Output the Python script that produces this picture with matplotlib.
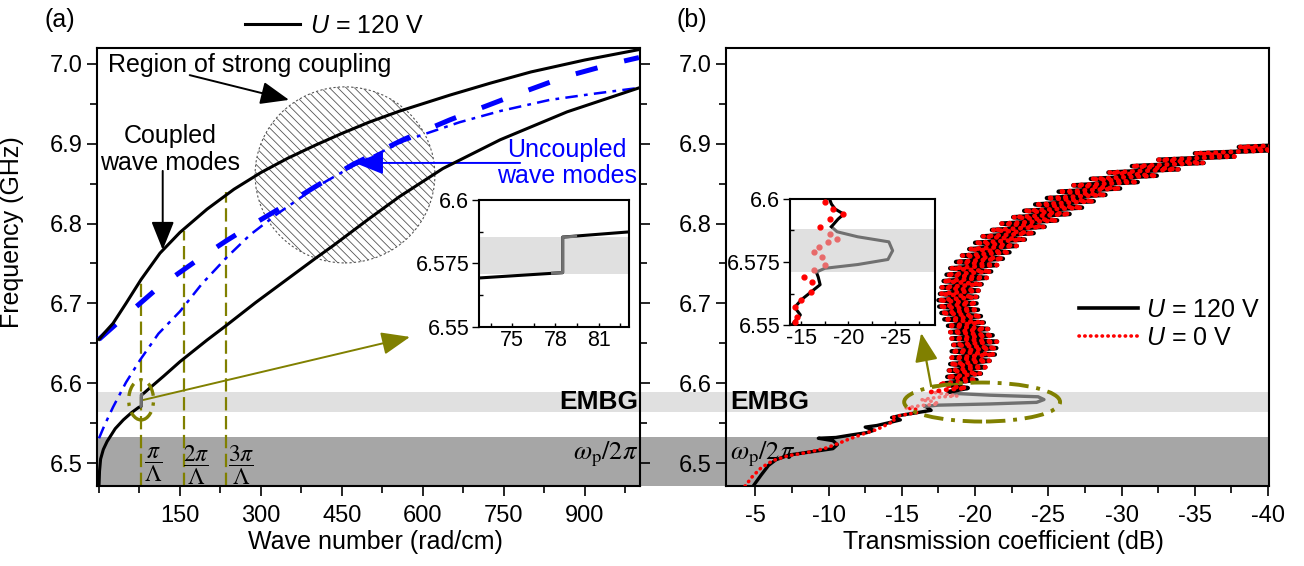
import matplotlib.pyplot as plt
from matplotlib.patches import Ellipse
from matplotlib.ticker import MultipleLocator, FixedLocator

plt.rcParams['font.family'] = ['Liberation Sans', 'DejaVu Sans']
plt.rcParams['mathtext.fontset'] = 'custom'
plt.rcParams['mathtext.rm'] = 'Liberation Sans'
plt.rcParams['mathtext.it'] = 'Liberation Sans:italic'
plt.rcParams['hatch.linewidth'] = 0.6

OLIVE = '#808000'
BLUE = '#0000ff'
GRAY = '#707070'
DARK_BAND = '#a6a6a6'
LIGHT_BAND = '#e0e0e0'

# ---- panel (a): dispersion, wave number (rad/cm) vs frequency (GHz)
k_up = [0, 10, 26, 50, 78, 113, 150, 200, 250, 300, 350, 400, 450, 500, 557, 650, 725, 800,
        900, 1000]
f_up = [6.655, 6.663, 6.675, 6.700, 6.730, 6.763, 6.789, 6.818, 6.843, 6.864, 6.882, 6.898,
        6.913, 6.927, 6.941, 6.961, 6.976, 6.990, 7.005, 7.018]

k_lo = [0, 1, 3, 8, 15, 30, 45, 60, 72.7, 78.5, 78.5, 83, 89, 120, 150, 200, 237, 290, 348,
        400, 433, 500, 557, 637, 743, 867, 1000]
f_lo = [6.471, 6.490, 6.505, 6.517, 6.527, 6.543, 6.554, 6.563, 6.5693, 6.5714, 6.5854, 6.5874,
        6.591, 6.609, 6.627, 6.654, 6.673, 6.701, 6.730, 6.756, 6.772, 6.806, 6.834, 6.869,
        6.905, 6.940, 6.970]
k_jump = [77.8, 78.5, 78.5, 79.4]
f_jump = [6.5712, 6.5714, 6.5854, 6.5857]

k_dash = [0, 40, 76, 110, 150, 190, 237, 280, 330, 400, 470, 563, 650, 770, 863, 955, 1000]
f_dash = [6.655, 6.679, 6.700, 6.720, 6.739, 6.758, 6.779, 6.797, 6.817, 6.846, 6.874, 6.905,
          6.930, 6.961, 6.984, 7.001, 7.008]

k_dd = [0, 10, 26, 50, 76, 110, 150, 190, 237, 280, 330, 400, 470, 563, 668, 743, 835, 920, 1000]
f_dd = [6.531, 6.547, 6.570, 6.601, 6.629, 6.662, 6.690, 6.724, 6.758, 6.786, 6.812, 6.845,
        6.872, 6.903, 6.927, 6.941, 6.955, 6.963, 6.970]

k_bragg = [78.5, 157, 235.5]
bragg_labels = [r'$\dfrac{\pi}{\Lambda}$', r'$\dfrac{2\pi}{\Lambda}$', r'$\dfrac{3\pi}{\Lambda}$']

# ---- panel (b): transmission coefficient (dB) vs frequency (GHz)
blk_db = [-4.85, -5.4, -5.9, -6.4, -7.3, -8.8, -10.3, -10.6, -10.3, -9.3, -10.5, -11.5, -12.6,
          -13.1, -12.5, -13.3, -14.0, -14.9, -14.3, -15.0, -16.0, -17.0, -16.8, -16.6]
blk_f = [6.471, 6.485, 6.497, 6.504, 6.510, 6.514, 6.518, 6.523, 6.528, 6.531, 6.532, 6.535,
         6.538, 6.541, 6.545, 6.547, 6.550, 6.554, 6.557, 6.560, 6.563, 6.566, 6.569, 6.571]
spike_db = [-16.6, -17.5, -21.0, -24.2, -24.7, -24.3, -21.0, -18.8, -18.2]
spike_f = [6.571, 6.5725, 6.574, 6.576, 6.5795, 6.583, 6.585, 6.587, 6.589]
blk_top_db = [-18.2, -18.9, -19.5, -18.6, -18.2]
blk_top_f = [6.589, 6.592, 6.594, 6.596, 6.598]

red_db = [-4.3, -4.8, -5.4, -6.2, -7.2, -8.5, -9.7, -10.6, -11.4, -12.3, -13.3, -14.3, -14.5,
          -14.3, -15.0, -16.0, -16.1, -15.3]
red_f = [6.471, 6.483, 6.494, 6.503, 6.509, 6.513, 6.518, 6.524, 6.530, 6.536, 6.542, 6.551,
         6.553, 6.557, 6.560, 6.563, 6.567, 6.569]
red_gap_db = [-15.3, -16.3, -17.5, -17.2, -16.3, -16.9, -17.8, -18.8, -18.1, -17.0]
red_gap_f = [6.569, 6.572, 6.574, 6.577, 6.579, 6.581, 6.583, 6.584, 6.586, 6.589]
red_top_db = [-17.0, -18.1, -19.4, -18.4, -17.5]
red_top_f = [6.589, 6.592, 6.594, 6.596, 6.599]

# rippled part above the gap (both voltages overlap here)
band_f = [6.600, 6.604, 6.608, 6.612, 6.616, 6.620, 6.624, 6.628, 6.632, 6.636, 6.640, 6.644,
          6.648, 6.652, 6.656, 6.660, 6.664, 6.668, 6.672, 6.676, 6.680, 6.684, 6.688, 6.692,
          6.696, 6.700, 6.704, 6.708, 6.712, 6.716, 6.720, 6.724, 6.728, 6.732, 6.736, 6.740,
          6.744, 6.748, 6.752, 6.756, 6.760, 6.764, 6.768, 6.772, 6.776, 6.780, 6.784, 6.788,
          6.792, 6.796, 6.800, 6.804, 6.808, 6.812, 6.816, 6.820, 6.824, 6.828, 6.832, 6.836,
          6.840, 6.844, 6.848, 6.852, 6.856, 6.860, 6.864, 6.868, 6.872, 6.876, 6.880, 6.884,
          6.888, 6.892, 6.896, 6.900, 6.904]
band_db = [-18.0, -20.1, -18.1, -20.4, -18.2, -20.7, -18.3, -21.0, -18.4, -21.35, -18.4, -21.45,
           -18.5, -21.5, -18.4, -21.2, -18.3, -20.9, -18.15, -20.6, -17.9, -20.4, -17.7, -20.2,
           -17.55, -20.1, -17.5, -20.15, -17.6, -20.25, -17.7, -20.45, -17.85, -20.8, -18.05, -21.1,
           -18.3, -21.5, -18.7, -21.9, -19.1, -22.35, -19.6, -22.85, -20.0, -23.4, -20.5, -24.0,
           -21.15, -24.75, -21.8, -25.6, -22.6, -26.45, -23.35, -27.3, -24.1, -28.1, -24.9, -28.9,
           -25.7, -29.9, -26.7, -31.1, -27.9, -32.4, -29.1, -33.9, -30.7, -35.6, -32.5, -37.7,
           -35.0, -40.5, -38.0, -43.5, -41.0]

wp_lim = 6.532
embg = (6.564, 6.589)
ylim = (6.4712, 7.020)

W, H = 1304, 566
fig = plt.figure(figsize=(W / 100, H / 100), dpi=100)


def rect(x0, y0, x1, y1):
    return [x0 / W, 1 - y1 / H, (x1 - x0) / W, (y1 - y0) / H]


ax_a = fig.add_axes(rect(97, 48, 640, 486))
ax_b = fig.add_axes(rect(726, 48, 1269, 486))
ax_b.patch.set_visible(False)

# shaded bands running across both panels
span = (1269 - 97) / (640 - 97)
ax_a.axhspan(ylim[0], wp_lim, xmin=0, xmax=span, color=DARK_BAND, lw=0, zorder=0, clip_on=False)
ax_a.axhspan(embg[0], embg[1], xmin=0, xmax=span, color=LIGHT_BAND, lw=0, zorder=0, clip_on=False)

# ---- panel (a)
ax_a.add_patch(Ellipse((455.6, 6.861), 333, 0.2206, facecolor='none', edgecolor='#555555',
                       hatch='\\\\\\\\', lw=0.8, ls=(0, (2, 2)), zorder=1))
for kb, f_top in zip(k_bragg, [6.730, 6.791, 6.840]):
    ax_a.plot([kb, kb], [ylim[0], f_top], color=OLIVE, lw=1.6, ls=(0, (6, 2.5)), zorder=2)
line_up, = ax_a.plot(k_up, f_up, color='black', lw=2.2, zorder=4)
ax_a.plot(k_lo, f_lo, color='black', lw=2.2, zorder=4)
ax_a.plot(k_jump, f_jump, color=GRAY, lw=2.2, zorder=5)
ax_a.plot(k_dash, f_dash, color=BLUE, lw=3.6, ls=(0, (4.5, 5.5)), zorder=3)
ax_a.plot(k_dd, f_dd, color=BLUE, lw=1.8, ls=(0, (5, 2.5, 1.5, 2.5)), zorder=3)

for kx, lab in zip([100, 181, 263], bragg_labels):
    ax_a.text(kx, 6.4975, lab, fontsize=17, ha='center', va='center', math_fontfamily='stix')

ax_a.text(998, 6.576, 'EMBG', fontsize=19, fontweight='bold', ha='right', va='center')
ax_a.text(998, 6.511, r'$\omega_{\rm p}/2\pi$', fontsize=19, ha='right', va='center',
          math_fontfamily='stix')
ax_b.text(-3.3, 6.576, 'EMBG', fontsize=19, fontweight='bold', ha='left', va='center')
ax_b.text(-3.3, 6.511, r'$\omega_{\rm p}/2\pi$', fontsize=19, ha='left', va='center',
          math_fontfamily='stix')

head = '-|>,head_length=0.8,head_width=0.32'
ax_a.text(17, 6.999, 'Region of strong coupling', fontsize=18, ha='left', va='center')
ax_a.annotate('', xy=(352, 6.955), xytext=(168, 6.986),
              arrowprops=dict(arrowstyle=head, color='black', lw=1.4, mutation_scale=22,
                              shrinkA=0, shrinkB=0))
ax_a.text(131, 6.893, 'Coupled\nwave modes', fontsize=18, ha='center', va='center',
          linespacing=1.15)
ax_a.annotate('', xy=(118, 6.767), xytext=(118, 6.866),
              arrowprops=dict(arrowstyle=head, color='black', lw=1.4, mutation_scale=22,
                              shrinkA=0, shrinkB=0))
ax_a.text(866, 6.876, 'Uncoupled\nwave modes', fontsize=18, ha='center', va='center',
          color=BLUE, linespacing=1.15)
ax_a.annotate('', xy=(474, 6.876), xytext=(780, 6.876),
              arrowprops=dict(arrowstyle=head, color=BLUE, lw=1.4, mutation_scale=22,
                              shrinkA=0, shrinkB=0))
ax_a.add_patch(Ellipse((78, 6.579), 46, 0.050, facecolor='none', edgecolor=OLIVE, lw=2.4,
                       ls=(0, (4, 2, 1, 2)), zorder=6))
ax_a.annotate('', xy=(576, 6.658), xytext=(82, 6.579),
              arrowprops=dict(arrowstyle=head, color=OLIVE, lw=1.4, mutation_scale=22,
                              shrinkA=0, shrinkB=0))

ax_a.set_xlim(-3.7, 1002)
ax_a.set_ylim(*ylim)
ax_a.xaxis.set_major_locator(FixedLocator([150, 300, 450, 600, 750, 900]))
ax_a.xaxis.set_minor_locator(FixedLocator([0, 75, 225, 375, 525, 675, 825, 975]))
ax_a.yaxis.set_major_locator(MultipleLocator(0.1))
ax_a.yaxis.set_minor_locator(MultipleLocator(0.05))
ax_a.tick_params(which='both', direction='out', labelsize=17, width=1.2, top=False,
                 right=True, labelright=False, pad=3)
ax_a.tick_params(which='major', length=7)
ax_a.tick_params(which='minor', length=5)
ax_a.tick_params(axis='x', pad=7)
ax_a.yaxis.set_major_formatter(plt.FuncFormatter(lambda v, p: f'{v:.1f}'))
ax_a.set_xlabel('Wave number (rad/cm)', fontsize=18)
ax_a.xaxis.set_label_coords(0.512, -0.10)
ax_a.set_ylabel('Frequency (GHz)', fontsize=18)
ax_a.yaxis.set_label_coords(-0.135, 0.58)
for s in ax_a.spines.values():
    s.set_linewidth(1.5)

ax_a.legend([line_up], [r'$U$ = 120 V'], loc='center left', bbox_to_anchor=(245 / W, 1 - 26 / H),
            bbox_transform=fig.transFigure, frameon=False, fontsize=18, handlelength=2.2,
            handletextpad=0.4, borderpad=0, borderaxespad=0)

# ---- panel (b)
ax_b.plot(blk_db, blk_f, color='black', lw=2.4, zorder=3)
ax_b.plot(spike_db, spike_f, color=GRAY, lw=2.4, zorder=3)
ax_b.plot(blk_top_db + band_db, blk_top_f + band_f, color='black', lw=3.2, zorder=3)
line_120, = ax_b.plot([], [], color='black', lw=2.6)
dots = dict(ls=(0, (0.1, 1.5)), dash_capstyle='round', zorder=4)
ax_b.plot(red_db, red_f, color='red', lw=2.6, **dots)
ax_b.plot(red_gap_db, red_gap_f, color='#f07878', lw=2.6, **dots)
ax_b.plot(red_top_db + band_db, red_top_f + band_f, color='red', lw=3.4, **dots)
line_0, = ax_b.plot([], [], color='red', lw=2.6, **dots)

ax_b.add_patch(Ellipse((-20.48, 6.5764), 10.64, 0.0489, facecolor='none', edgecolor=OLIVE,
                       lw=2.8, ls=(0, (5, 2, 1, 2)), zorder=6))
ax_b.plot([-18.78, -17.0], [6.599, 6.5965], color=OLIVE, lw=1.6, zorder=6)
ax_b.annotate('', xy=(-16.32, 6.663), xytext=(-17.0, 6.5965),
              arrowprops=dict(arrowstyle=head, color=OLIVE, lw=1.6, mutation_scale=22,
                              shrinkA=0, shrinkB=0))

ax_b.set_xlim(-3.0, -40.06)
ax_b.set_ylim(*ylim)
ax_b.xaxis.set_major_locator(MultipleLocator(5))
ax_b.xaxis.set_minor_locator(MultipleLocator(2.5))
ax_b.yaxis.set_major_locator(MultipleLocator(0.1))
ax_b.yaxis.set_minor_locator(MultipleLocator(0.05))
ax_b.xaxis.set_major_formatter(plt.FuncFormatter(lambda v, p: f'{v:.0f}'))
ax_b.yaxis.set_major_formatter(plt.FuncFormatter(lambda v, p: f'{v:.1f}'))
ax_b.tick_params(which='both', direction='out', labelsize=17, width=1.2, top=False,
                 right=False, pad=3)
ax_b.tick_params(which='major', length=7)
ax_b.tick_params(which='minor', length=5)
ax_b.tick_params(axis='x', pad=7)
ax_b.set_xlabel('Transmission coefficient (dB)', fontsize=18)
ax_b.xaxis.set_label_coords(0.511, -0.10)
for s in ax_b.spines.values():
    s.set_linewidth(1.5)
ax_b.legend([line_120, line_0], [r'$U$ = 120 V', r'$U$ = 0 V'], loc='center left',
            bbox_to_anchor=(1079 / W, 1 - 324 / H), bbox_transform=fig.transFigure,
            frameon=False, fontsize=18, handlelength=2.35, handletextpad=0.35,
            labelspacing=0.15, borderpad=0, borderaxespad=0)

fig.text(45 / W, 1 - 20 / H, '(a)', fontsize=18, va='center')
fig.text(677 / W, 1 - 20 / H, '(b)', fontsize=18, va='center')

# ---- inset of panel (a)
ax_ai = fig.add_axes(rect(479, 200, 629, 327))
ax_ai.axhspan(6.5709, 6.5854, color=LIGHT_BAND, lw=0, zorder=0)
ax_ai.plot(k_lo, f_lo, color='black', lw=2.2)
ax_ai.plot(k_jump, f_jump, color=GRAY, lw=2.2)
ax_ai.set_xlim(72.7, 83.1)
ax_ai.set_ylim(6.55, 6.6)

# ---- inset of panel (b)
ax_bi = fig.add_axes(rect(790, 199, 935, 325))
ax_bi.axhspan(6.5710, 6.5880, color=LIGHT_BAND, lw=0, zorder=0)
ax_bi.plot(blk_db, blk_f, color='black', lw=2.2)
ax_bi.plot(spike_db, spike_f, color=GRAY, lw=2.2)
ax_bi.plot(blk_top_db + band_db, blk_top_f + band_f, color='black', lw=2.2)
ax_bi.plot(red_db + red_top_db, red_f + red_top_f, 'o', color='red', ms=3.5, zorder=4)
ax_bi.plot(red_gap_db[1:-1], red_gap_f[1:-1], 'o', color='#e86a6a', ms=3.5, zorder=4)
ax_bi.set_xlim(-13.8, -29.2)
ax_bi.set_ylim(6.55, 6.6)

for ax, xmaj, xmin in [(ax_ai, 3, 1.5), (ax_bi, 5, 2.5)]:
    ax.xaxis.set_major_locator(MultipleLocator(xmaj))
    ax.xaxis.set_minor_locator(MultipleLocator(xmin))
    ax.yaxis.set_major_locator(FixedLocator([6.55, 6.575, 6.6]))
    ax.yaxis.set_minor_locator(FixedLocator([6.5625, 6.5875]))
    ax.yaxis.set_major_formatter(plt.FuncFormatter(lambda v, p: f'{v:g}'))
    ax.xaxis.set_major_formatter(plt.FuncFormatter(lambda v, p: f'{v:.0f}'))
    ax.tick_params(which='both', labelsize=15.5, width=1.0, pad=2)
    ax.tick_params(axis='x', which='both', direction='in', length=3)
    ax.tick_params(axis='y', which='major', direction='out', length=5)
    ax.tick_params(axis='y', which='minor', direction='in', length=3)
    for s in ax.spines.values():
        s.set_linewidth(1.5)

fig.savefig('out.png', dpi=100)
